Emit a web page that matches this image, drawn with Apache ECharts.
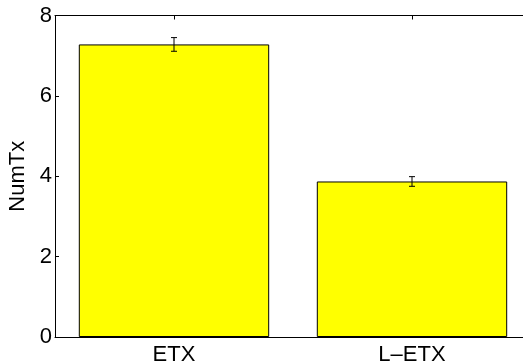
<!DOCTYPE html>
<html>
<head>
<meta charset="utf-8">
<script src="https://cdn.jsdelivr.net/npm/echarts@6/dist/echarts.min.js"></script>
<style>
  html, body { margin: 0; padding: 0; background: #fff; }
  #chart { width: 523px; height: 364px; }
</style>
</head>
<body>
<div id="chart"></div>
<script>
// Mean number of transmissions per metric, with error half-widths
const categories = ['ETX', 'L–ETX'];
const meanTx = [7.28, 3.87];
const errTx = [0.17, 0.12];
const yTicks = { min: 0, max: 8, interval: 2 };

const FONT = 'Liberation Sans, Arial, Helvetica, sans-serif';
const chart = echarts.init(document.getElementById('chart'), null, { renderer: 'canvas' });

const errData = categories.map((c, i) => [i, meanTx[i] - errTx[i], meanTx[i] + errTx[i]]);

chart.setOption({
  animation: false,
  backgroundColor: '#fff',
  // the axes box runs slightly past the right edge of the canvas
  grid: { left: 55, top: 15.5, width: 476, height: 321.5, containLabel: false, outerBoundsMode: 'none' },
  xAxis: [
    {
      type: 'category',
      data: categories,
      position: 'bottom',
      axisLine: { lineStyle: { color: '#000', width: 1 } },
      axisTick: { show: false },
      axisLabel: { color: '#000', fontSize: 22, fontFamily: FONT, margin: 7 }
    },
    {
      type: 'category',
      data: categories,
      position: 'top',
      axisLine: { lineStyle: { color: '#000', width: 1 } },
      axisTick: { show: true, inside: true, length: 4, alignWithLabel: true, lineStyle: { color: '#000' } },
      axisLabel: { show: false }
    }
  ],
  yAxis: {
    type: 'value',
    min: yTicks.min,
    max: yTicks.max,
    interval: yTicks.interval,
    name: 'NumTx',
    nameLocation: 'middle',
    nameGap: 21,
    nameTextStyle: { color: '#000', fontSize: 22, fontFamily: FONT },
    axisLine: { show: true, lineStyle: { color: '#000', width: 1 } },
    axisTick: { show: true, inside: true, length: 4, lineStyle: { color: '#000' } },
    axisLabel: { color: '#000', fontSize: 22, fontFamily: FONT, margin: 3 },
    splitLine: { show: false }
  },
  series: [
    {
      type: 'bar',
      data: meanTx,
      barWidth: '80%',
      itemStyle: { color: '#ffff00', borderColor: '#000', borderWidth: 1 },
      z: 2
    },
    {
      type: 'custom',
      data: errData,
      z: 5,
      renderItem: function (params, api) {
        const x = api.value(0);
        const lo = api.coord([x, api.value(1)]);
        const hi = api.coord([x, api.value(2)]);
        const cap = 3;
        const style = { stroke: '#000', lineWidth: 1 };
        return {
          type: 'group',
          children: [
            { type: 'line', shape: { x1: lo[0], y1: lo[1], x2: hi[0], y2: hi[1] }, style },
            { type: 'line', shape: { x1: lo[0] - cap, y1: lo[1], x2: lo[0] + cap, y2: lo[1] }, style },
            { type: 'line', shape: { x1: hi[0] - cap, y1: hi[1], x2: hi[0] + cap, y2: hi[1] }, style }
          ]
        };
      }
    }
  ]
});
</script>
</body>
</html>
